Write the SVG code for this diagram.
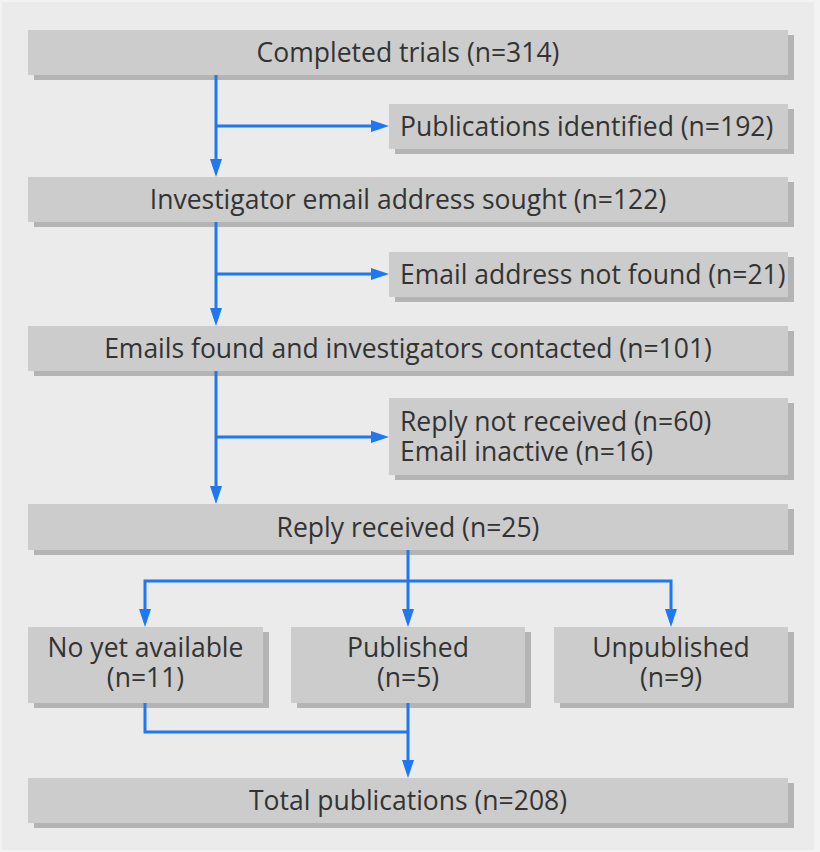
<svg xmlns="http://www.w3.org/2000/svg" width="820" height="852" viewBox="0 0 820 852">
<style>
.shadow{fill:#b4b4b4}
.box{fill:#cccccc}
.t{font-family:"Open Sans","Noto Sans","Liberation Sans",sans-serif;font-size:26.5px;fill:#333333}
.c{text-anchor:middle}
.conn{fill:none;stroke:#1f77f2;stroke-width:3}
</style>
<defs>
<marker id="arr" markerUnits="userSpaceOnUse" markerWidth="18" markerHeight="12" refX="10" refY="6" orient="auto">
<path d="M0,0 L18,6 L0,12 z" fill="#1f77f2"/>
</marker>
</defs>
<rect x="0" y="0" width="820" height="852" fill="#f3f3f3"/>
<rect x="2" y="2" width="812" height="848" fill="#ebebeb"/>

<g id="completed">
<rect class="shadow" x="34" y="35" width="760" height="45"/>
<rect class="box" x="28" y="30" width="760" height="45"/>
<text class="t c" x="408" y="62">Completed trials (n=314)</text>
</g>
<g id="pubs-identified">
<rect class="shadow" x="395" y="109" width="399" height="45"/>
<rect class="box" x="389" y="104" width="399" height="45"/>
<text class="t" x="400" y="136">Publications identified (n=192)</text>
</g>
<g id="email-sought">
<rect class="shadow" x="34" y="182" width="760" height="45"/>
<rect class="box" x="28" y="177" width="760" height="45"/>
<text class="t c" x="408" y="209">Investigator email address sought (n=122)</text>
</g>
<g id="email-not-found">
<rect class="shadow" x="395" y="257" width="399" height="45"/>
<rect class="box" x="389" y="252" width="399" height="45"/>
<text class="t" x="400" y="284">Email address not found (n=21)</text>
</g>
<g id="emails-found">
<rect class="shadow" x="34" y="331" width="760" height="45"/>
<rect class="box" x="28" y="326" width="760" height="45"/>
<text class="t c" x="408" y="358">Emails found and investigators contacted (n=101)</text>
</g>
<g id="reply-not-received">
<rect class="shadow" x="395" y="403" width="399" height="77"/>
<rect class="box" x="389" y="398" width="399" height="77"/>
<text class="t" x="400" y="431"><tspan x="400">Reply not received (n=60)</tspan><tspan x="400" dy="30">Email inactive (n=16)</tspan></text>
</g>
<g id="reply-received">
<rect class="shadow" x="34" y="509" width="760" height="46"/>
<rect class="box" x="28" y="504" width="760" height="46"/>
<text class="t c" x="408" y="537">Reply received (n=25)</text>
</g>
<g id="not-yet">
<rect class="shadow" x="34" y="632" width="235" height="76"/>
<rect class="box" x="28" y="627" width="235" height="76"/>
<text class="t c" x="145.5" y="657"><tspan x="145.5">No yet available</tspan><tspan x="145.5" dy="30">(n=11)</tspan></text>
</g>
<g id="published">
<rect class="shadow" x="297" y="632" width="234" height="76"/>
<rect class="box" x="291" y="627" width="234" height="76"/>
<text class="t c" x="408" y="657"><tspan x="408">Published</tspan><tspan x="408" dy="30">(n=5)</tspan></text>
</g>
<g id="unpublished">
<rect class="shadow" x="560" y="632" width="234" height="76"/>
<rect class="box" x="554" y="627" width="234" height="76"/>
<text class="t c" x="671" y="657"><tspan x="671">Unpublished</tspan><tspan x="671" dy="30">(n=9)</tspan></text>
</g>
<g id="total">
<rect class="shadow" x="34" y="783" width="760" height="45"/>
<rect class="box" x="28" y="778" width="760" height="45"/>
<text class="t c" x="408" y="810">Total publications (n=208)</text>
</g>

<g id="connectors">
<path class="conn" d="M216,75 V169" marker-end="url(#arr)"/>
<path class="conn" d="M216,126 H381" marker-end="url(#arr)"/>
<path class="conn" d="M216,222 V318" marker-end="url(#arr)"/>
<path class="conn" d="M216,274 H381" marker-end="url(#arr)"/>
<path class="conn" d="M216,371 V496" marker-end="url(#arr)"/>
<path class="conn" d="M216,437 H381" marker-end="url(#arr)"/>
<path class="conn" d="M408,550 V619" marker-end="url(#arr)"/>
<path class="conn" d="M408,581 H145 V619" marker-end="url(#arr)"/>
<path class="conn" d="M408,581 H671 V619" marker-end="url(#arr)"/>
<path class="conn" d="M145,703 V732 H408"/>
<path class="conn" d="M408,703 V770" marker-end="url(#arr)"/>
</g>
</svg>
